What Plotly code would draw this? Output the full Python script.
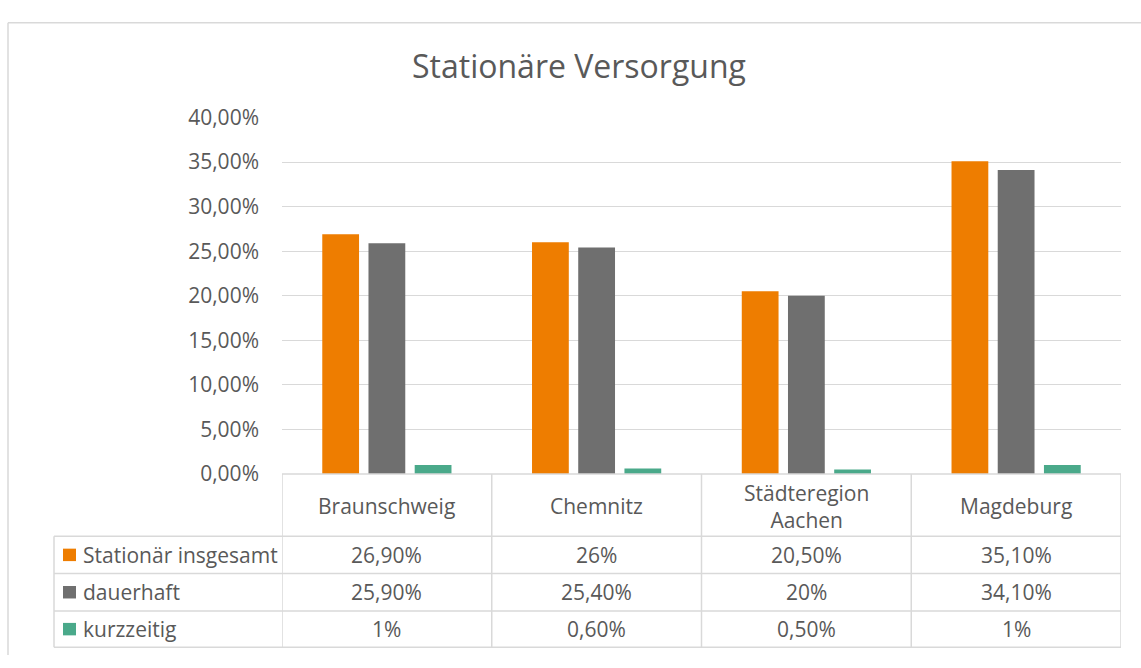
import plotly.graph_objects as go

categories = ["Braunschweig", "Chemnitz", "Städteregion Aachen", "Magdeburg"]
header_labels = ["Braunschweig", "Chemnitz", "Städteregion<br>Aachen", "Magdeburg"]
series_names = ["Stationär insgesamt", "dauerhaft", "kurzzeitig"]
stationaer = [0.269, 0.26, 0.205, 0.351]
dauerhaft = [0.259, 0.254, 0.20, 0.341]
kurzzeitig = [0.01, 0.006, 0.005, 0.01]
colors = ["#EE7D00", "#6F6F6F", "#4AA98A"]
y_ticks = [0, 0.05, 0.10, 0.15, 0.20, 0.25, 0.30, 0.35, 0.40]

series_values = [stationaer, dauerhaft, kurzzeitig]

W, H = 1141, 668
FONT = "Open Sans"
TXT = "#595959"
LINE = "#D9D9D9"
FS = 21


def px(x):
    return x / W


def py(y):
    return 1 - y / H


def fmt(v):
    p = v * 100
    if abs(p - round(p)) < 1e-9:
        return f"{int(round(p))}%"
    return f"{p:.2f}".replace(".", ",") + "%"


fig = go.Figure()
for name, vals, col in zip(series_names, series_values, colors):
    fig.add_trace(go.Bar(x=list(range(len(categories))), y=vals, name=name,
                         marker=dict(color=col, line=dict(width=0)),
                         hoverinfo="y+name"))

plot_left, plot_right, plot_top, plot_bottom = 282, 1121, 107, 479

fig.update_layout(
    width=W, height=H,
    margin=dict(l=0, r=0, t=0, b=0),
    paper_bgcolor="white", plot_bgcolor="white",
    showlegend=False,
    separators=",.",
    barmode="group", bargap=0.339, bargroupgap=0.204,
    font=dict(family=FONT, color=TXT, size=FS),
    xaxis=dict(domain=[px(plot_left), px(plot_right)], range=[-0.5, len(categories) - 0.5],
               showticklabels=False, showgrid=False, zeroline=False, showline=False, fixedrange=True),
    yaxis=dict(domain=[py(plot_bottom), py(plot_top)], range=[0, 0.40],
               tickvals=y_ticks, tickformat=".2%", gridcolor=LINE, gridwidth=1.3,
               zeroline=False, showline=False, ticklabelstandoff=22,
               tickfont=dict(family=FONT, size=FS, color=TXT)),
)

shapes = []
annotations = []

# outer chart border
shapes.append(dict(type="line", xref="paper", yref="paper", x0=px(8), x1=px(1141), y0=py(8), y1=py(8),
                   line=dict(color=LINE, width=1.5)))
shapes.append(dict(type="line", xref="paper", yref="paper", x0=px(8), x1=px(8), y0=py(8), y1=py(668),
                   line=dict(color=LINE, width=1.5)))

# title
annotations.append(dict(text="Stationäre Versorgung", xref="paper", yref="paper", x=px(579), y=py(53),
                        xanchor="center", yanchor="middle", showarrow=False,
                        font=dict(family=FONT, size=32, color=TXT)))

# data table
row_edges = [479, 544, 583, 622, 660]
table_left = 54
n = len(categories)
for i, ye in enumerate(row_edges):
    if i == 0:
        shapes.append(dict(type="line", xref="x", yref="paper", x0=-0.5, x1=n - 0.5, y0=py(ye), y1=py(ye),
                           line=dict(color=LINE, width=1.5)))
    else:
        shapes.append(dict(type="line", xref="paper", yref="paper", x0=px(table_left), x1=px(plot_right),
                           y0=py(ye), y1=py(ye), line=dict(color=LINE, width=1.5)))
for k in range(n + 1):
    shapes.append(dict(type="line", xref="x", yref="paper", x0=k - 0.5, x1=k - 0.5,
                       y0=py(row_edges[0]), y1=py(row_edges[-1]), line=dict(color=LINE, width=1.5)))
shapes.append(dict(type="line", xref="paper", yref="paper", x0=px(table_left), x1=px(table_left),
                   y0=py(row_edges[1]), y1=py(row_edges[-1]), line=dict(color=LINE, width=1.5)))

# header row
hy = (row_edges[0] + row_edges[1]) / 2
for k, lab in enumerate(header_labels):
    annotations.append(dict(text=lab, xref="x", yref="paper", x=k, y=py(hy + 1), xanchor="center",
                            yanchor="middle", showarrow=False, font=dict(family=FONT, size=FS, color=TXT)))

# data rows
for r, (name, vals, col) in enumerate(zip(series_names, series_values, colors)):
    yc = (row_edges[r + 1] + row_edges[r + 2]) / 2
    shapes.append(dict(type="rect", xref="paper", yref="paper", x0=px(63), x1=px(76),
                       y0=py(yc - 6.5), y1=py(yc + 6.5), fillcolor=col, line=dict(width=0)))
    annotations.append(dict(text=name, xref="paper", yref="paper", x=px(81), y=py(yc), xanchor="left",
                            yanchor="middle", showarrow=False, font=dict(family=FONT, size=FS, color=TXT)))
    for k, v in enumerate(vals):
        annotations.append(dict(text=fmt(v), xref="x", yref="paper", x=k, y=py(yc), xanchor="center",
                                yanchor="middle", showarrow=False, font=dict(family=FONT, size=FS, color=TXT)))

fig.update_layout(shapes=shapes, annotations=annotations)
fig.write_html(
    "out.html",
    config={"displayModeBar": False},
    post_script=(
        "document.body.style.margin='0';"
        "var d=document.getElementById('{plot_id}');"
        "d.style.position='fixed';d.style.top='0';d.style.left='0';"
    ),
)
